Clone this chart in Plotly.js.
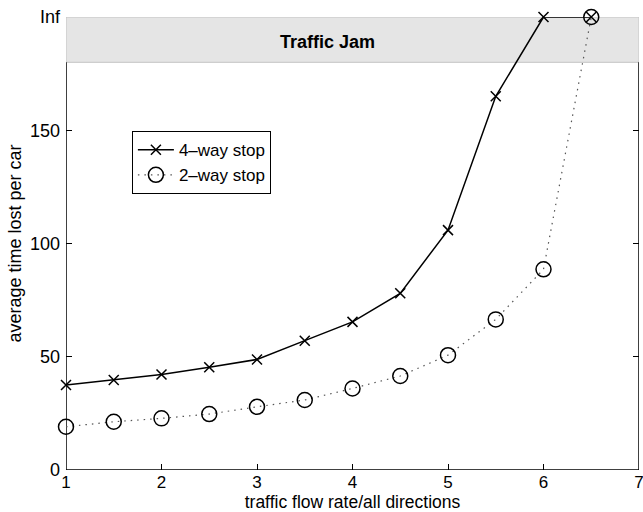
<!DOCTYPE html>
<html><head><meta charset="utf-8">
<script src="https://cdn.plot.ly/plotly-3.0.1.min.js"></script>
<style>body{margin:0;padding:0;background:#fff}#chart{width:643px;height:512px}</style>
</head><body><div id="chart"></div>
<script>
// flow rate (x) ; 200 represents "Inf" (traffic jam)
const flowRate = [1, 1.5, 2, 2.5, 3, 3.5, 4, 4.5, 5, 5.5, 6, 6.5];
const fourWay = [37.5, 39.7, 42.2, 45.4, 48.8, 57.1, 65.4, 78.0, 105.9, 165, 200, 200];
const twoWay = [19.1, 21.3, 22.8, 24.7, 27.9, 30.9, 36.0, 41.5, 50.7, 66.5, 88.6, 200];
const yTickVals = [0, 50, 100, 150, 200];
const yTickText = ['0', '50', '100', '150', 'Inf'];
const xTickVals = [1, 2, 3, 4, 5, 6, 7];
const jamLow = 180, infValue = 200;

const font = 'Liberation Sans, Arial, Helvetica, sans-serif';
const traces = [
  {x: flowRate, y: fourWay, name: '4\u2013way stop', mode: 'lines+markers', cliponaxis: false,
   line: {color: '#000', width: 1.5},
   marker: {symbol: 'x-thin-open', size: 10, line: {color: '#000', width: 1.5}}},
  {x: flowRate, y: twoWay, name: '2\u2013way stop', mode: 'lines+markers', cliponaxis: false,
   line: {color: '#555', width: 1.2, dash: '1.5px,5px'},
   marker: {symbol: 'circle-open', size: 15, color: '#000', line: {color: '#000', width: 1.5}}},
  {x: [1, 7], y: [0, 0], yaxis: 'y2', mode: 'markers', showlegend: false, hoverinfo: 'skip',
   marker: {opacity: 0}}
];
const layout = {
  width: 643, height: 512,
  margin: {l: 66, r: 4, t: 17, b: 42},
  paper_bgcolor: '#fff', plot_bgcolor: '#fff',
  font: {family: font, size: 17, color: '#000'},
  showlegend: true,
  legend: {x: 0.115, y: 0.748, xanchor: 'left', yanchor: 'top', bgcolor: '#fff',
    bordercolor: '#000', borderwidth: 1, itemwidth: 36, entrywidth: 145, entrywidthmode: 'pixels',
    font: {family: font, size: 17, color: '#000'}, tracegroupgap: 0},
  xaxis: {range: [1, 7], tickvals: xTickVals, ticks: 'inside', ticklen: 6, tickcolor: '#000',
    showgrid: false, zeroline: false, showline: false, ticklabeloverflow: 'allow',
    tickfont: {family: font, size: 17}, ticklabelstandoff: 0,
    title: {text: 'traffic flow rate/all directions', font: {family: font, size: 17.5}, standoff: 0}},
  yaxis: {range: [0, infValue], tickvals: yTickVals, ticktext: yTickText, ticks: 'inside', ticklen: 6,
    tickcolor: '#000', showgrid: false, zeroline: false, showline: false,
    tickfont: {family: font, size: 18}, ticklabelstandoff: 5,
    title: {text: 'average time lost per car', font: {family: font, size: 18}, standoff: 3}},
  yaxis2: {range: [0, infValue], overlaying: 'y', side: 'right', tickvals: [0, 50, 100, 150],
    ticks: 'inside', ticklen: 6, tickcolor: '#000', showticklabels: false,
    showgrid: false, zeroline: false, showline: false},
  shapes: [
    {type: 'rect', layer: 'below', xref: 'x', yref: 'y', x0: 1, x1: 7, y0: jamLow, y1: infValue,
     fillcolor: '#e5e5e5', line: {color: '#c4c4c4', width: 1}},
    {type: 'line', layer: 'below', xref: 'x', yref: 'y', x0: 1, x1: 1, y0: 0, y1: jamLow,
     line: {color: '#000', width: 1.5}},
    {type: 'line', layer: 'below', xref: 'x', yref: 'y', x0: 7, x1: 7, y0: 0, y1: jamLow,
     line: {color: '#000', width: 1.5}},
    {type: 'line', layer: 'below', xref: 'x', yref: 'y', x0: 1, x1: 7, y0: 0, y1: 0,
     line: {color: '#000', width: 1.5}}
  ],
  annotations: [
    {text: '<b>Traffic Jam</b>', xref: 'x', yref: 'y', x: 3.74, y: 189, showarrow: false,
     font: {family: font, size: 18, color: '#000'}}
  ]
};
Plotly.newPlot('chart', traces, layout, {displayModeBar: false, staticPlot: true});
</script></body></html>
